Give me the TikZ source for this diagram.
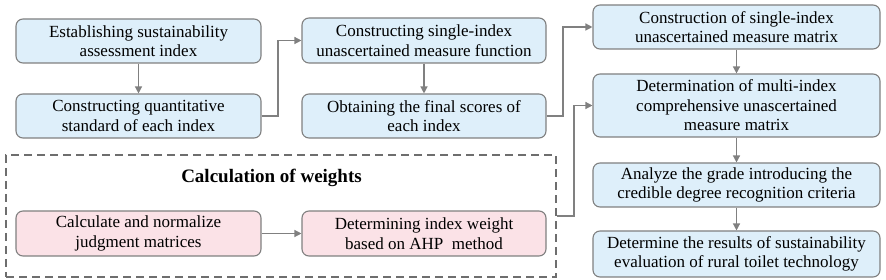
\documentclass[tikz,border=0pt]{standalone}
\usepackage{fontspec}
\setmainfont{Liberation Serif}
\newfontfamily\tms{Liberation Serif}
\usetikzlibrary{arrows.meta,calc}
\definecolor{bfill}{RGB}{222,239,250}
\definecolor{pfill}{RGB}{251,226,231}
\definecolor{edge}{RGB}{128,128,128}
\definecolor{dash}{RGB}{110,110,110}
\tikzset{
  stepbox/.style={draw=edge, line width=1.1pt, rounded corners=7pt, align=center,
    font=\tms\fontsize{17}{19.5}\selectfont, inner sep=0pt},
  bluebox/.style={stepbox, fill=bfill},
  pinkbox/.style={stepbox, fill=pfill},
  conn/.style={draw=edge, line width=1.3pt, -{Triangle[length=7pt,width=7pt]}},
  grpbox/.style={draw=dash, line width=2pt, dash pattern=on 8pt off 5pt, inner sep=0pt}
}
\begin{document}
\begin{tikzpicture}[x=1pt,y=-1pt]
\useasboundingbox (0,0) rectangle (886,280);
\node[grpbox, minimum width=550pt, minimum height=122pt] (grp) at (281,216) {};
\node[font=\tms\fontsize{19}{22}\selectfont\bfseries] (title) at (271.5,178) {Calculation of weights};

\node[bluebox, minimum width=245pt, minimum height=44pt] (b1) at (138.5,41) {Establishing sustainability\\assessment index};
\node[bluebox, minimum width=245pt, minimum height=44pt] (b2) at (138.5,116) {Constructing quantitative\\standard of each index};
\node[bluebox, minimum width=244pt, minimum height=45pt] (b3) at (424,40.5) {Constructing single-index\\unascertained measure function};
\node[bluebox, minimum width=244pt, minimum height=44pt] (b4) at (424,116) {Obtaining the final scores of\\each index};
\node[bluebox, minimum width=287pt, minimum height=44pt] (b5) at (736.5,27) {Construction of single-index\\unascertained measure matrix};
\node[bluebox, minimum width=287pt, minimum height=63pt] (b6) at (736.5,105.5) {Determination of multi-index\\comprehensive unascertained\\measure matrix};
\node[bluebox, minimum width=287pt, minimum height=44pt] (b7) at (736.5,185) {Analyze the grade introducing the\\credible degree recognition criteria};
\node[bluebox, minimum width=287pt, minimum height=46pt] (b8) at (736.5,254) {Determine the results of sustainability\\evaluation of rural toilet technology};
\node[pinkbox, minimum width=245pt, minimum height=45pt] (p1) at (138.5,233.5) {Calculate and normalize\\judgment matrices};
\node[pinkbox, minimum width=244pt, minimum height=45pt] (p2) at (424,233.5) {Determining index weight\\based on AHP\ \ method};

\coordinate (c1) at (278,0);
\coordinate (c2) at (563,0);
\coordinate (c3) at (574,0);

\draw[conn] (b1) -- (b2);
\draw[conn] (b3) -- (b4);
\draw[conn] (b5) -- (b6);
\draw[conn] (b6) -- (b7);
\draw[conn] (b7) -- (b8);
\draw[conn] (p1) -- (p2);
\draw[conn] (b2.east) -- (b2.east -| c1) -- (c1 |- b3.west) -- (b3.west);
\draw[conn] (b4.east) -- (b4.east -| c2) -- (c2 |- b5.west) -- (b5.west);
\draw[conn] (grp.east) -- (grp.east -| c3) -- (c3 |- b6.west) -- (b6.west);
\end{tikzpicture}
\end{document}
